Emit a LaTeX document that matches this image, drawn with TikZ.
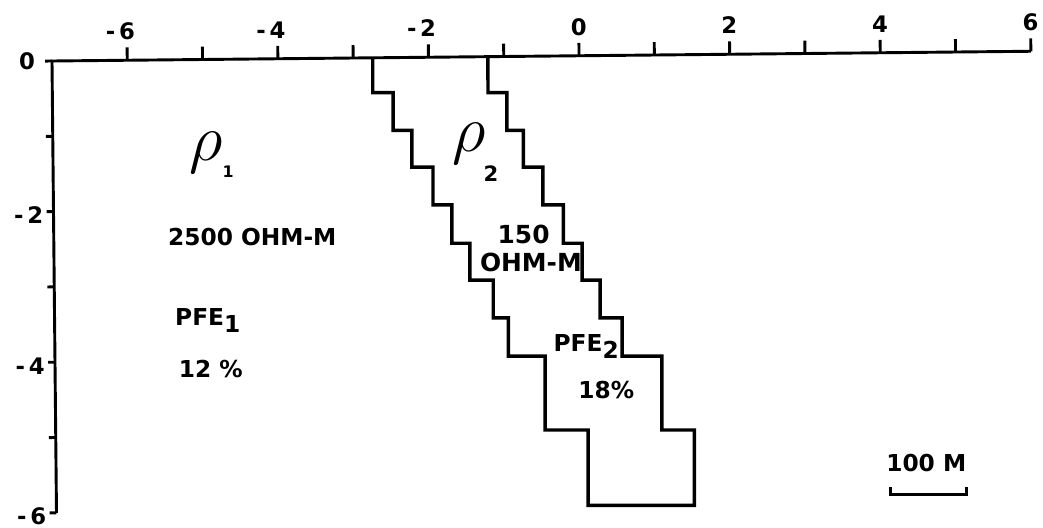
\documentclass[tikz,border=0pt]{standalone}
\usepackage{fontspec}
\setmainfont{DejaVu Sans}
\usetikzlibrary{calc}
\begin{document}
\begin{tikzpicture}[
  ax/.style={line width=1.1pt},
  stair/.style={line width=1.3pt, line join=miter},
  lbl/.style={font=\bfseries\fontsize{8.6}{10}\selectfont, inner sep=0pt},
  txt/.style={font=\bfseries\fontsize{8.8}{10}\selectfont, inner sep=0pt},
  txtb/.style={font=\bfseries\fontsize{9.4}{11}\selectfont, inner sep=0pt},
  rhosym/.style={font=\fontsize{24}{24}\selectfont, inner sep=0pt},
  sub/.style={font=\bfseries\fontsize{8}{9}\selectfont, inner sep=0pt},
]
\useasboundingbox[fill=white] (-7.69,-6.20) rectangle (6.16,0.81);
\begin{scope}[rotate around={0.57:(-7,0)}]
  \coordinate (O) at (-7,0);
  \coordinate (TR) at (6,0);
  \coordinate (BL) at (-7,-6);
  \coordinate (sA) at (-2.74,0);
  \coordinate (sB) at (-1.21,0);
  \draw[ax] (BL) -- (O) -- (TR);
  \foreach \x in {-6,...,6} \draw[ax] (\x,0) -- (\x,0.17);
  \foreach \y in {0,...,-6} \draw[ax] (-7,\y) -- (-7.09,\y);
  \foreach \x/\d in {-6/6,-4/4,-2/2}
    \node[lbl] (xl\d) at (\x,0.385) {\llap{-\,}\d};
  \foreach \x in {0,2,4,6}
    \node[lbl] (xp\x) at (\x,0.385) {\x};
  \node[lbl, anchor=east] (y0) at (-7.22,0) {0};
  \foreach \y/\d in {-2/2,-4/4,-6/6}
    \node[lbl, anchor=east] (yl\d) at (-7.13,\y-0.05) {-\,\d};
\end{scope}

\draw[stair] (sA) -- (-2.74,-0.42) -- (-2.47,-0.42) -- (-2.47,-0.92) -- (-2.22,-0.92)
  -- (-2.22,-1.41) -- (-1.94,-1.41) -- (-1.94,-1.91) -- (-1.69,-1.91) -- (-1.69,-2.42)
  -- (-1.45,-2.42) -- (-1.45,-2.91) -- (-1.14,-2.91) -- (-1.14,-3.41) -- (-0.94,-3.41)
  -- (-0.94,-3.92) -- (-0.45,-3.92) -- (-0.45,-4.90) -- (0.12,-4.90) -- (0.12,-5.90)
  -- (1.53,-5.90) -- (1.53,-4.90) -- (1.10,-4.90) -- (1.10,-3.92) -- (0.57,-3.92)
  -- (0.57,-3.41) -- (0.28,-3.41) -- (0.28,-2.91) -- (0.04,-2.91) -- (0.04,-2.42)
  -- (-0.21,-2.42) -- (-0.21,-1.91) -- (-0.48,-1.91) -- (-0.48,-1.41) -- (-0.74,-1.41)
  -- (-0.74,-0.92) -- (-0.96,-0.92) -- (-0.96,-0.42) -- (-1.21,-0.42) -- (sB);

\node[rhosym] (rho1) at (-4.95,-1.22) {$\rho$};
\node[sub, font=\bfseries\fontsize{6}{7}\selectfont] (rho1s) at (-4.66,-1.47) {1};
\node[rhosym] (rho2) at (-1.46,-1.10) {$\rho$};
\node[sub] (rho2s) at (-1.17,-1.49) {2};

\node[txt] (r1) at (-4.34,-2.34) {2500 OHM-M};
\node[txt, anchor=west] (p1) at (-5.37,-3.45) {PFE\raisebox{-0.55ex}{1}};
\node[txt] (c1) at (-4.89,-4.09) {12 \%};

\node[txtb] (r2a) at (-0.737,-2.30) {150};
\node[txtb] (r2b) at (-0.64,-2.68) {OHM-M};
\node[txt, anchor=west] (p2) at (-0.345,-3.79) {PFE\raisebox{-0.55ex}{2}};
\node[txt] (c2) at (0.36,-4.37) {18\%};

\node[txt] (sc) at (4.61,-5.34) {100 M};
\coordinate (scL) at (4.13,-5.76);
\coordinate (scR) at (5.14,-5.76);
\draw[ax] ($(scL)+(0,0.1)$) -- (scL) -- (scR) -- ($(scR)+(0,0.1)$);
\end{tikzpicture}
\end{document}
